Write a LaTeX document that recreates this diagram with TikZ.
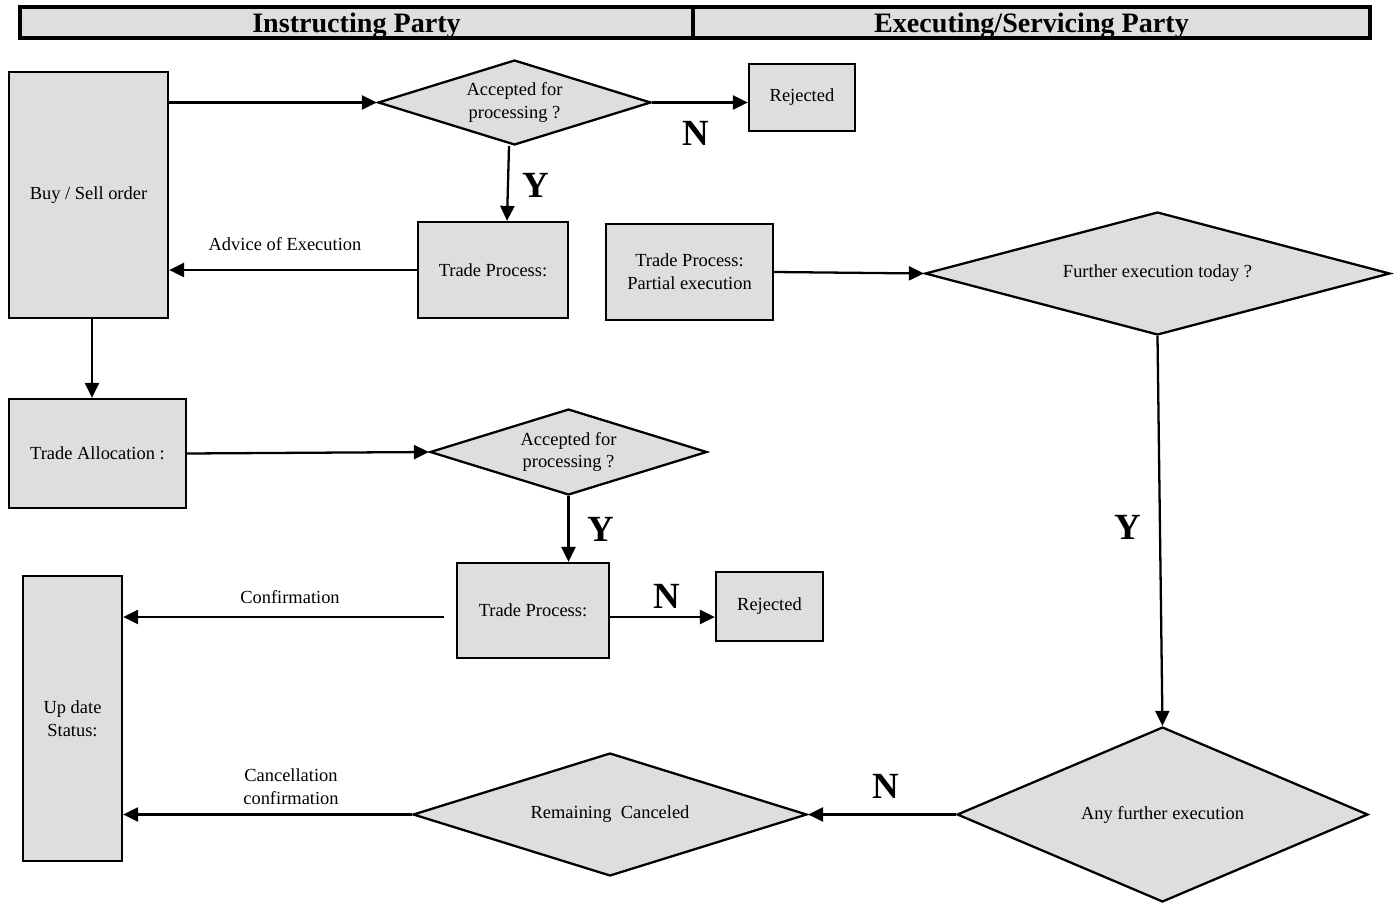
\documentclass[tikz,border=0pt]{standalone}
\usepackage{fontspec}
\setmainfont{Liberation Serif}
\usepackage{tikz}
\usetikzlibrary{shapes.geometric,arrows.meta}
\definecolor{boxgray}{HTML}{DEDEDE}

\begin{document}
\begin{tikzpicture}[x=0.02cm,y=-0.02cm,line width=1.3pt,
	box/.style={draw,fill=boxgray,align=center,inner sep=1pt,font=\fontsize{10.5}{13}\selectfont},
	dec/.style={draw,fill=boxgray,diamond,align=center,inner sep=0pt,font=\fontsize{10.5}{13}\selectfont},
	hdr/.style={draw,fill=boxgray,line width=1.8pt,minimum height=0.62cm,inner sep=0pt,text depth=0pt,font=\fontsize{16}{18}\selectfont\bfseries},
	lbl/.style={align=center,font=\fontsize{10.5}{13}\selectfont},
	yn/.style={font=\fontsize{21}{24}\selectfont\bfseries},
	arr/.style={-{Triangle[length=3mm,width=2.8mm]}}]

	\useasboundingbox (0,0) rectangle (1400,903);

	% header
	\node[hdr,minimum width=13.46cm] (hdrl) at (356.5,22.5) {Instructing Party};
	\node[hdr,minimum width=13.54cm] (hdrr) at (1031.5,22.5) {Executing/Servicing Party};

	% boxes
	\node[box,minimum width=3.18cm,minimum height=4.92cm] (order) at (88.5,195) {Buy / Sell order};
	\node[box,minimum width=2.12cm,minimum height=1.34cm] (rej1) at (802,97.5) {Rejected};
	\node[box,minimum width=3.0cm,minimum height=1.92cm] (trade1) at (493,270) {Trade Process:};
	\node[box,minimum width=3.34cm,minimum height=1.92cm] (partial) at (689.5,272) {Trade Process:\\Partial execution};
	\node[box,minimum width=3.54cm,minimum height=2.18cm] (alloc) at (97.5,453.5) {Trade Allocation :};
	\node[box,minimum width=3.04cm,minimum height=1.9cm] (trade2) at (533,610.5) {Trade Process:};
	\node[box,minimum width=2.14cm,minimum height=1.38cm] (rej2) at (769.5,606.5) {Rejected};
	\node[box,minimum width=1.98cm,minimum height=5.7cm] (status) at (72.5,718.5) {Up date\\Status:};

	% decisions
	\node[dec,minimum width=5.46cm,minimum height=1.7cm,aspect=3.2] (acc1) at (514.5,102.5) {Accepted for\\processing ?};
	\node[dec,minimum width=9.3cm,minimum height=2.46cm,aspect=3.8] (today) at (1157.5,273.5) {Further execution today ?};
	\node[dec,minimum width=5.54cm,minimum height=1.72cm,aspect=3.2] (acc2) at (568.5,452) {Accepted for\\processing ?};
	\node[dec,minimum width=8.22cm,minimum height=3.5cm,aspect=2.35] (further) at (1162.5,814.5) {Any further execution};
	\node[dec,minimum width=7.88cm,minimum height=2.46cm,aspect=3.2] (cancel) at (610,814.5) {Remaining\ \ Canceled};

	% connectors
	\draw[arr] (acc1.west -| order.east) -- (acc1.west);
	\draw[arr] (acc1.east) -- (acc1.east -| rej1.west);
	\draw[arr] (acc1.south -| 509,0) -- (trade1.north -| 507,0);
	\draw[arr] (trade1.west) -- (trade1.west -| order.east);
	\draw[arr] (partial.east) -- (today.west);
	\draw[arr] (today.south) -- (further.north);
	\draw[arr] (order.south -| 92,0) -- (alloc.north -| 92,0);
	\draw[arr] (alloc.east) -- (acc2.west);
	\draw[arr] (acc2.south) -- (trade2.north -| acc2.south);
	\coordinate (conf) at (444,617);
	\draw[arr] (conf) -- (conf -| status.east);
	\draw[arr] (trade2.east |- conf) -- (rej2.west |- conf);
	\draw[arr] (further.west) -- (cancel.east);
	\draw[arr] (cancel.west) -- (cancel.west -| status.east);

	% labels
	\node[yn] (n1) at (696,133) {N};
	\node[yn] (y1) at (536,185) {Y};
	\node[lbl] (adv) at (285,244) {Advice of Execution};
	\node[yn] (y2) at (601,529) {Y};
	\node[yn] (n2) at (667,596) {N};
	\node[lbl] (conftxt) at (290,597) {Confirmation};
	\node[yn] (y3) at (1128,527) {Y};
	\node[yn] (n3) at (886,786) {N};
	\node[lbl] (canctxt) at (291,787) {Cancellation\\confirmation};

\end{tikzpicture}
\end{document}
